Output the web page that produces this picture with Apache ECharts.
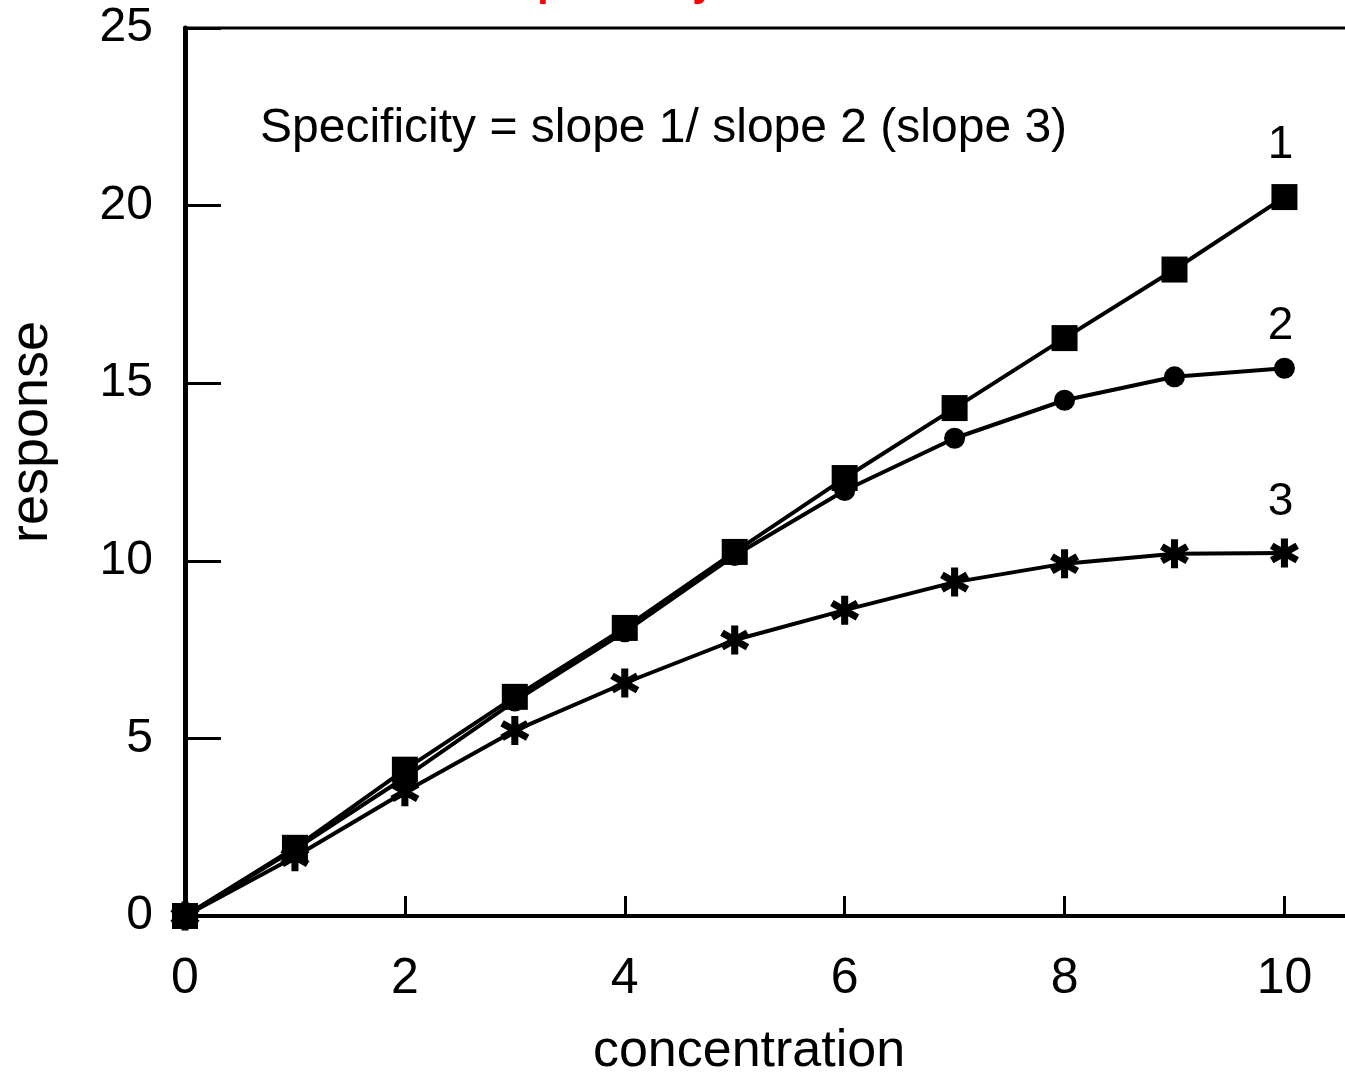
<!DOCTYPE html>
<html>
<head>
<meta charset="utf-8">
<script src="https://cdn.jsdelivr.net/npm/echarts@6/dist/echarts.min.js"></script>
<style>html,body{margin:0;padding:0;background:#fff;}#chart{width:1345px;height:1072px;}</style>
</head>
<body>
<div id="chart"></div>
<script>
const concentration = [0, 1, 2, 3, 4, 5, 6, 7, 8, 9, 10];
const response1 = [0, 1.92, 4.12, 6.17, 8.11, 10.25, 12.33, 14.3, 16.27, 18.2, 20.24];
const response2 = [0, 1.88, 3.9, 6.05, 8.0, 10.15, 11.98, 13.45, 14.52, 15.18, 15.42];
const response3 = [0, 1.67, 3.5, 5.22, 6.56, 7.77, 8.61, 9.4, 9.92, 10.2, 10.22];
const curveNames = ['1', '2', '3'];
const xTicks = [0, 2, 4, 6, 8, 10];
const yTicks = [0, 5, 10, 15, 20, 25];

const starPath = 'path://M-2.4,-10L2.4,-10L2.4,10L-2.4,10Z' +
  'M7.46,-7.08L9.86,-2.92L-7.46,7.08L-9.86,2.92Z' +
  'M-9.86,-2.92L-7.46,-7.08L9.86,2.92L7.46,7.08Z';

function pairs(vals) { return concentration.map((c, i) => [c, vals[i]]); }
function withEndLabel(vals, name, off) {
  const d = pairs(vals);
  const last = d.length - 1;
  d[last] = { value: d[last], label: { show: true, formatter: name, position: 'inside', offset: [-4, off],
    fontSize: 46, fontFamily: 'Liberation Sans, Arial, sans-serif', color: '#000' } };
  return d;
}

const chart = echarts.init(document.getElementById('chart'), null, { renderer: 'canvas' });
chart.setOption({
  animation: false,
  backgroundColor: '#fff',
  title: {
    text: 'Specificity', left: 510, top: -36, padding: 0,
    textStyle: { color: '#ff0000', fontSize: 41, fontWeight: 'bold', fontFamily: 'Liberation Sans, Arial, sans-serif' }
  },
  grid: { left: 185, top: 28, bottom: 156, right: -12, show: true, borderColor: '#000', borderWidth: 3,
    backgroundColor: 'transparent', containLabel: false, outerBoundsMode: 'none' },
  xAxis: {
    type: 'value', min: 0, max: 10.66, interval: 2,
    name: 'concentration', nameLocation: 'middle', nameGap: 110,
    nameTextStyle: { fontSize: 52, color: '#000', fontFamily: 'Liberation Sans, Arial, sans-serif', padding: [0, 44, 0, 0] },
    axisLine: { show: true, lineStyle: { color: '#000', width: 4 } },
    axisTick: { show: true, inside: true, length: 20, lineStyle: { color: '#000', width: 3 } },
    axisLabel: {
      margin: 38, fontSize: 50, color: '#000', fontFamily: 'Liberation Sans, Arial, sans-serif',
      showMaxLabel: false,
      formatter: v => (xTicks.indexOf(v) >= 0 ? String(v) : '')
    },
    splitLine: { show: false }
  },
  yAxis: {
    type: 'value', min: 0, max: 25, interval: 5,
    axisLine: { show: true, lineStyle: { color: '#000', width: 5 } },
    axisTick: { show: true, inside: true, length: 36, lineStyle: { color: '#000', width: 3 } },
    axisLabel: {
      margin: 32, fontSize: 48, color: '#000', fontFamily: 'Liberation Sans, Arial, sans-serif',
      formatter: v => (yTicks.indexOf(v) >= 0 ? String(v) : '')
    },
    splitLine: { show: false }
  },
  graphic: [
    { type: 'text', left: 260, top: 105, style: { text: 'Specificity = slope 1/ slope 2 (slope 3)', fontSize: 48, fill: '#000', fontFamily: 'Liberation Sans, Arial, sans-serif' } },
    { type: 'text', x: 32, y: 432, rotation: Math.PI / 2, style: { text: 'response', fontSize: 54, fill: '#000', fontFamily: 'Liberation Sans, Arial, sans-serif', align: 'center', verticalAlign: 'middle' } }
  ],
  series: [
    { type: 'line', name: curveNames[1], data: withEndLabel(response2, curveNames[1], -42), symbol: 'circle', symbolSize: 21,
      lineStyle: { color: '#000', width: 4 }, itemStyle: { color: '#000' }, z: 2 },
    { type: 'line', name: curveNames[2], data: withEndLabel(response3, curveNames[2], -51), symbol: starPath, symbolSize: 29,
      lineStyle: { color: '#000', width: 4 }, itemStyle: { color: '#000' }, z: 2 },
    { type: 'line', name: curveNames[0], data: withEndLabel(response1, curveNames[0], -52), symbol: 'rect', symbolSize: 26,
      lineStyle: { color: '#000', width: 4 }, itemStyle: { color: '#000' }, z: 3 }
  ]
});
</script>
</body>
</html>
